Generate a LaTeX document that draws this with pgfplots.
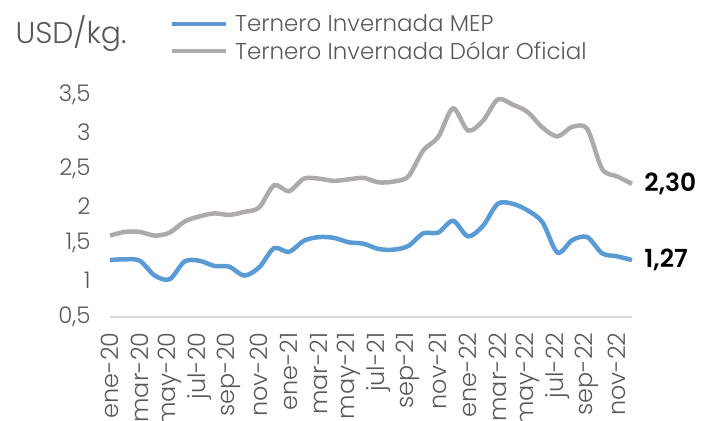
\documentclass[border=0pt]{standalone}
\usepackage{pgfplots}
\pgfplotsset{compat=1.18}
\usepackage{fontspec}
\setmainfont{Poppins}[UprightFont=* Light, BoldFont=* SemiBold]
\definecolor{mepblue}{RGB}{91,155,213}
\definecolor{ofgray}{RGB}{174,170,170}
\definecolor{txtgray}{RGB}{89,89,89}
\definecolor{axgray}{RGB}{217,217,217}
\begin{document}
\begin{tikzpicture}
\begin{axis}[
  at={(0,0)}, anchor=south west,
  scale only axis, width=522bp, height=222bp,
  xmin=0, xmax=35, ymin=0.5, ymax=3.5,
  axis x line*=bottom, axis y line*=left,
  x axis line style={draw=axgray, line width=2bp, -},
  y axis line style={draw=none},
  xtick={0,2,...,34},
  xticklabels={ene-20,mar-20,may-20,jul-20,sep-20,nov-20,ene-21,mar-21,may-21,jul-21,sep-21,nov-21,ene-22,mar-22,may-22,jul-22,sep-22,nov-22},
  xtick style={draw=none}, ytick style={draw=none},
  xticklabel style={rotate=90, anchor=east, font=\fontsize{24}{26}\selectfont, text=txtgray, yshift=0bp, xshift=-12bp},
  ytick={0.5,1,...,3.5},
  yticklabels={{0,5},1,{1,5},2,{2,5},3,{3,5}},
  yticklabel style={font=\fontsize{23}{26}\selectfont, text=txtgray, anchor=east, xshift=-16bp},
  clip=false,
  legend style={at={(rel axis cs:0.115,1.364)}, anchor=north west, draw=none, fill=none,
    font=\fontsize{23}{26}\selectfont, text=txtgray, row sep=9bp, inner sep=0pt,
    nodes={inner xsep=7bp, inner ysep=0pt}},
  legend cell align=left,
  legend image code/.code={\draw[#1, line width=4bp] (0bp,0bp) -- (54bp,0bp);},
]
\addplot[mepblue, line width=4.5bp, smooth, tension=0.5] coordinates {
(0,1.27)(1,1.28)(2,1.26)(3,1.06)(4,1.01)(5,1.25)(6,1.26)(7,1.19)(8,1.18)(9,1.06)
(10,1.17)(11,1.43)(12,1.38)(13,1.53)(14,1.58)(15,1.57)(16,1.51)(17,1.49)(18,1.42)(19,1.41)
(20,1.46)(21,1.63)(22,1.64)(23,1.80)(24,1.59)(25,1.73)(26,2.03)(27,2.03)(28,1.94)(29,1.78)
(30,1.37)(31,1.54)(32,1.58)(33,1.36)(34,1.32)(35,1.27)};
\addlegendentry{Ternero Invernada MEP}
\addplot[ofgray, line width=4.5bp, smooth, tension=0.5] coordinates {
(0,1.60)(1,1.65)(2,1.65)(3,1.60)(4,1.64)(5,1.79)(6,1.86)(7,1.90)(8,1.88)(9,1.92)
(10,1.98)(11,2.28)(12,2.20)(13,2.37)(14,2.37)(15,2.34)(16,2.36)(17,2.38)(18,2.32)(19,2.33)
(20,2.40)(21,2.75)(22,2.93)(23,3.32)(24,3.02)(25,3.15)(26,3.44)(27,3.37)(28,3.27)(29,3.06)
(30,2.94)(31,3.07)(32,3.04)(33,2.50)(34,2.40)(35,2.30)};
\addlegendentry{Ternero Invernada Dólar Oficial}
\node[anchor=west, font=\fontsize{25}{27}\selectfont\bfseries, text=black] at (axis cs:35.6,2.30) {2,30};
\node[anchor=west, font=\fontsize{25}{27}\selectfont\bfseries, text=black] at (axis cs:35.6,1.27) {1,27};
\end{axis}
\node[anchor=west, font=\fontsize{30}{33}\selectfont, text=txtgray] at (-98bp,284bp) {USD/kg.};
\pgfresetboundingbox
\path (-110bp,-104bp) rectangle (599bp,317bp);
\end{tikzpicture}
\end{document}
